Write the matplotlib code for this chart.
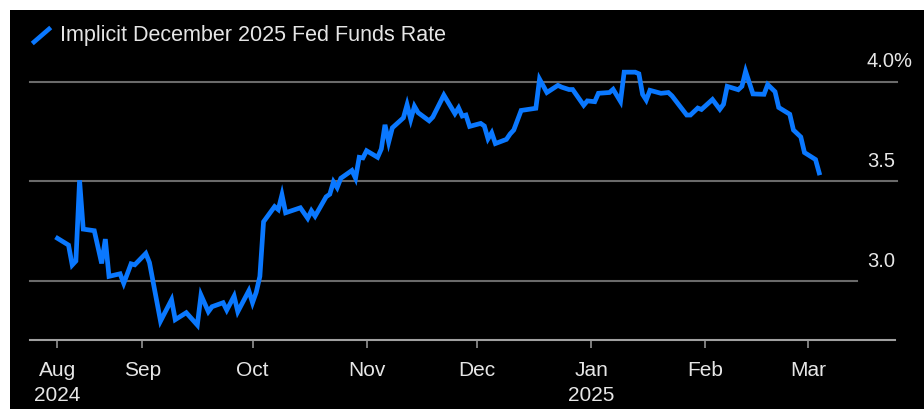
import matplotlib
matplotlib.use("Agg")
import matplotlib.pyplot as plt
import matplotlib.dates as mdates
from matplotlib.lines import Line2D
from matplotlib.patches import Rectangle
import pandas as pd

plt.rcParams['font.family'] = ['Liberation Sans', 'DejaVu Sans']

# Implied December 2025 fed funds rate (%)
dates = [
    "2024-08-09", "2024-08-12", "2024-08-13", "2024-08-14", "2024-08-15", "2024-08-16",
    "2024-08-19", "2024-08-21", "2024-08-22", "2024-08-23", "2024-08-26", "2024-08-27",
    "2024-08-29", "2024-08-30", "2024-09-02", "2024-09-03", "2024-09-06", "2024-09-09",
    "2024-09-10", "2024-09-13", "2024-09-16", "2024-09-17", "2024-09-19", "2024-09-20",
    "2024-09-23", "2024-09-24", "2024-09-26", "2024-09-27", "2024-09-30", "2024-10-01",
    "2024-10-02", "2024-10-03", "2024-10-04", "2024-10-07", "2024-10-08", "2024-10-09",
    "2024-10-10", "2024-10-14", "2024-10-16", "2024-10-17", "2024-10-18", "2024-10-21",
    "2024-10-22", "2024-10-23", "2024-10-24", "2024-10-25", "2024-10-28", "2024-10-29",
    "2024-10-30", "2024-10-31", "2024-11-01", "2024-11-04", "2024-11-05", "2024-11-06",
    "2024-11-07", "2024-11-08", "2024-11-11", "2024-11-12", "2024-11-13", "2024-11-14",
    "2024-11-15", "2024-11-18", "2024-11-19", "2024-11-22", "2024-11-25", "2024-11-26",
    "2024-11-27", "2024-11-28", "2024-11-29", "2024-12-02", "2024-12-03", "2024-12-04",
    "2024-12-05", "2024-12-06", "2024-12-09", "2024-12-10", "2024-12-11", "2024-12-13",
    "2024-12-17", "2024-12-18", "2024-12-20", "2024-12-23", "2024-12-24", "2024-12-26",
    "2024-12-27", "2024-12-30", "2024-12-31", "2025-01-02", "2025-01-03", "2025-01-06",
    "2025-01-07", "2025-01-09", "2025-01-10", "2025-01-13", "2025-01-14", "2025-01-15",
    "2025-01-16", "2025-01-17", "2025-01-20", "2025-01-22", "2025-01-23", "2025-01-27",
    "2025-01-28", "2025-01-30", "2025-01-31", "2025-02-03", "2025-02-05", "2025-02-06",
    "2025-02-07", "2025-02-10", "2025-02-11", "2025-02-12", "2025-02-14", "2025-02-17",
    "2025-02-18", "2025-02-20", "2025-02-21", "2025-02-24", "2025-02-25", "2025-02-27",
    "2025-02-28", "2025-03-03", "2025-03-04",
]
rate = [
    3.214, 3.180, 3.080, 3.100, 3.505, 3.260,
    3.252, 3.088, 3.210, 3.023, 3.036, 2.988,
    3.086, 3.081, 3.138, 3.092, 2.799, 2.906,
    2.806, 2.841, 2.779, 2.929, 2.846, 2.871,
    2.891, 2.854, 2.924, 2.846, 2.951, 2.891,
    2.943, 3.023, 3.297, 3.373, 3.358, 3.432,
    3.342, 3.367, 3.314, 3.352, 3.325, 3.422,
    3.435, 3.497, 3.468, 3.515, 3.554, 3.515,
    3.620, 3.617, 3.653, 3.620, 3.662, 3.783,
    3.696, 3.768, 3.818, 3.884, 3.810, 3.876,
    3.844, 3.803, 3.822, 3.932, 3.839, 3.868,
    3.827, 3.832, 3.775, 3.790, 3.777, 3.713,
    3.743, 3.689, 3.710, 3.737, 3.757, 3.855,
    3.866, 4.012, 3.945, 3.981, 3.972, 3.960,
    3.960, 3.881, 3.903, 3.899, 3.941, 3.945,
    3.961, 3.900, 4.047, 4.047, 4.039, 3.936,
    3.907, 3.956, 3.941, 3.945, 3.928, 3.832,
    3.832, 3.867, 3.860, 3.910, 3.861, 3.886,
    3.976, 3.959, 3.976, 4.051, 3.938, 3.936,
    3.985, 3.949, 3.870, 3.836, 3.757, 3.722,
    3.644, 3.609, 3.542,
]

tick_dates = ["2024-08-09", "2024-09-01", "2024-10-01", "2024-11-01",
              "2024-12-01", "2025-01-01", "2025-02-01", "2025-03-01"]
tick_labels = ["Aug\n2024", "Sep", "Oct", "Nov", "Dec", "Jan\n2025", "Feb", "Mar"]

grid_levels = [3.0, 3.5, 4.0]
grid_labels = ["3.0", "3.5", "4.0%"]
grid_ends = [0.956, 1.0025, 1.0025]

BLUE = "#0a78ff"
TEXT = "#e6e6e6"
GRID = "#6a6a6a"
AXIS = "#a0a0a0"
W, H = 924, 409

fig = plt.figure(figsize=(W / 100, H / 100), dpi=100, facecolor="white")
fig.patches.append(Rectangle((10 / W, 0), 1, (H - 10) / H, transform=fig.transFigure,
                             facecolor="black", edgecolor="none", zorder=-5))

ax = fig.add_axes([30 / W, 69 / H, 865 / W, 280 / H])
ax.set_facecolor("black")

x = pd.to_datetime(dates)
ax.plot(x, rate, color=BLUE, lw=3.4, solid_joinstyle="miter", zorder=3)

for lvl, lab, xe in zip(grid_levels, grid_labels, grid_ends):
    ax.axhline(lvl, xmin=0, xmax=xe, color=GRID, lw=1.5, clip_on=False, zorder=1)
    ax.text(0.9676, lvl + 0.1, lab, transform=ax.get_yaxis_transform(),
            ha="left", va="center", color=TEXT, fontsize=14.5)

base = mdates.date2num(pd.Timestamp("2024-09-01"))
ax.set_xlim(base - 30.47, base + 204.6)
ax.set_ylim(2.704, 4.108)

for s in ["top", "left", "right"]:
    ax.spines[s].set_visible(False)
ax.spines["bottom"].set_color(AXIS)
ax.spines["bottom"].set_linewidth(1.5)

ax.set_yticks([])
ax.set_xticks(pd.to_datetime(tick_dates))
ax.set_xticklabels(tick_labels, linespacing=1.45)
ax.tick_params(axis="x", length=5.8, width=1.1, color=AXIS, labelcolor=TEXT,
               labelsize=15, pad=9)

# legend swatch and series name
fig.add_artist(Line2D([34 / W, 49 / W], [1 - 42 / H, 1 - 29 / H], color=BLUE, lw=3.3,
                      transform=fig.transFigure))
fig.text(60 / W, 1 - 35.5 / H, "Implicit December 2025 Fed Funds Rate",
         color=TEXT, fontsize=15.5, va="center", ha="left")

fig.savefig("out.png", dpi=100, facecolor=fig.get_facecolor())
